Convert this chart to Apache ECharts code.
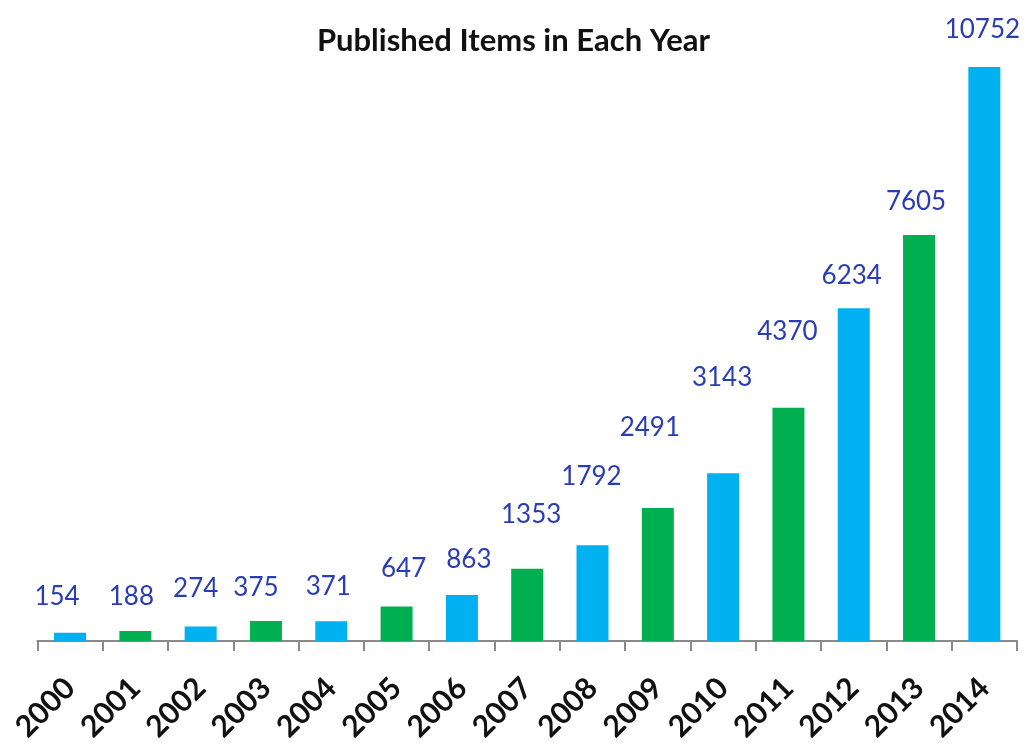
<!DOCTYPE html>
<html>
<head>
<meta charset="utf-8">
<script src="https://cdn.jsdelivr.net/npm/echarts@6/dist/echarts.min.js"></script>
<style>
html,body{margin:0;padding:0;background:#fff;}
#chart{width:1027px;height:745px;}
</style>
</head>
<body>
<div id="chart"></div>
<script>
const years = ['2000','2001','2002','2003','2004','2005','2006','2007','2008','2009','2010','2011','2012','2013','2014'];
const items = [154, 188, 274, 375, 371, 647, 863, 1353, 1792, 2491, 3143, 4370, 6234, 7605, 10752];

// label placement tweaks (style only): [dx, dy] of label centre relative to bar top centre
const labelOffsets = [[-13,-38],[-4,-36],[-5,-40],[-10,-35],[-3,-37],[7,-40],[7,-37],[4,-56],[-1,-71],[-8,-82],[-1,-98],[-1,-78],[-2,-35],[-3,-35],[-2,-39]];

const BLUE = '#00B0F0', GREEN = '#00B050';
const LABEL_FS = 26;

const chart = echarts.init(document.getElementById('chart'));
chart.setOption({
  backgroundColor: '#fff',
  animation: false,
  title: {
    text: 'Published Items in Each Year',
    left: 'center',
    top: 20,
    textStyle: { fontFamily: 'Lato', fontWeight: 'bold', fontSize: 31, color: '#111' }
  },
  grid: { left: 37.4, right: 10, top: 53.7, bottom: 102.3, containLabel: false },
  xAxis: {
    type: 'category',
    data: years,
    boundaryGap: true,
    axisLine: { lineStyle: { color: '#8a8a8a', width: 2 } },
    axisTick: { show: true, length: 10, lineStyle: { color: '#8a8a8a', width: 2 } },
    axisLabel: {
      rotate: 45,
      interval: 0,
      margin: 42,
      align: 'right',
      verticalAlign: 'middle',
      fontFamily: 'Lato',
      fontWeight: 'bold',
      fontSize: 30,
      color: '#111'
    }
  },
  yAxis: {
    type: 'value',
    min: 0,
    max: 11000,
    show: false,
    splitLine: { show: false }
  },
  series: [{
    type: 'bar',
    barWidth: 32,
    data: items.map((v, i) => ({
      value: v,
      label: { offset: [labelOffsets[i][0], labelOffsets[i][1] + LABEL_FS / 2 + 2] }
    })),
    itemStyle: { color: p => (p.dataIndex % 2 === 0 ? BLUE : GREEN) },
    label: {
      show: true,
      position: 'top',
      distance: 0,
      fontFamily: 'Lato',
      fontSize: LABEL_FS,
      color: '#2B3DB4'
    }
  }]
});
</script>
</body>
</html>
